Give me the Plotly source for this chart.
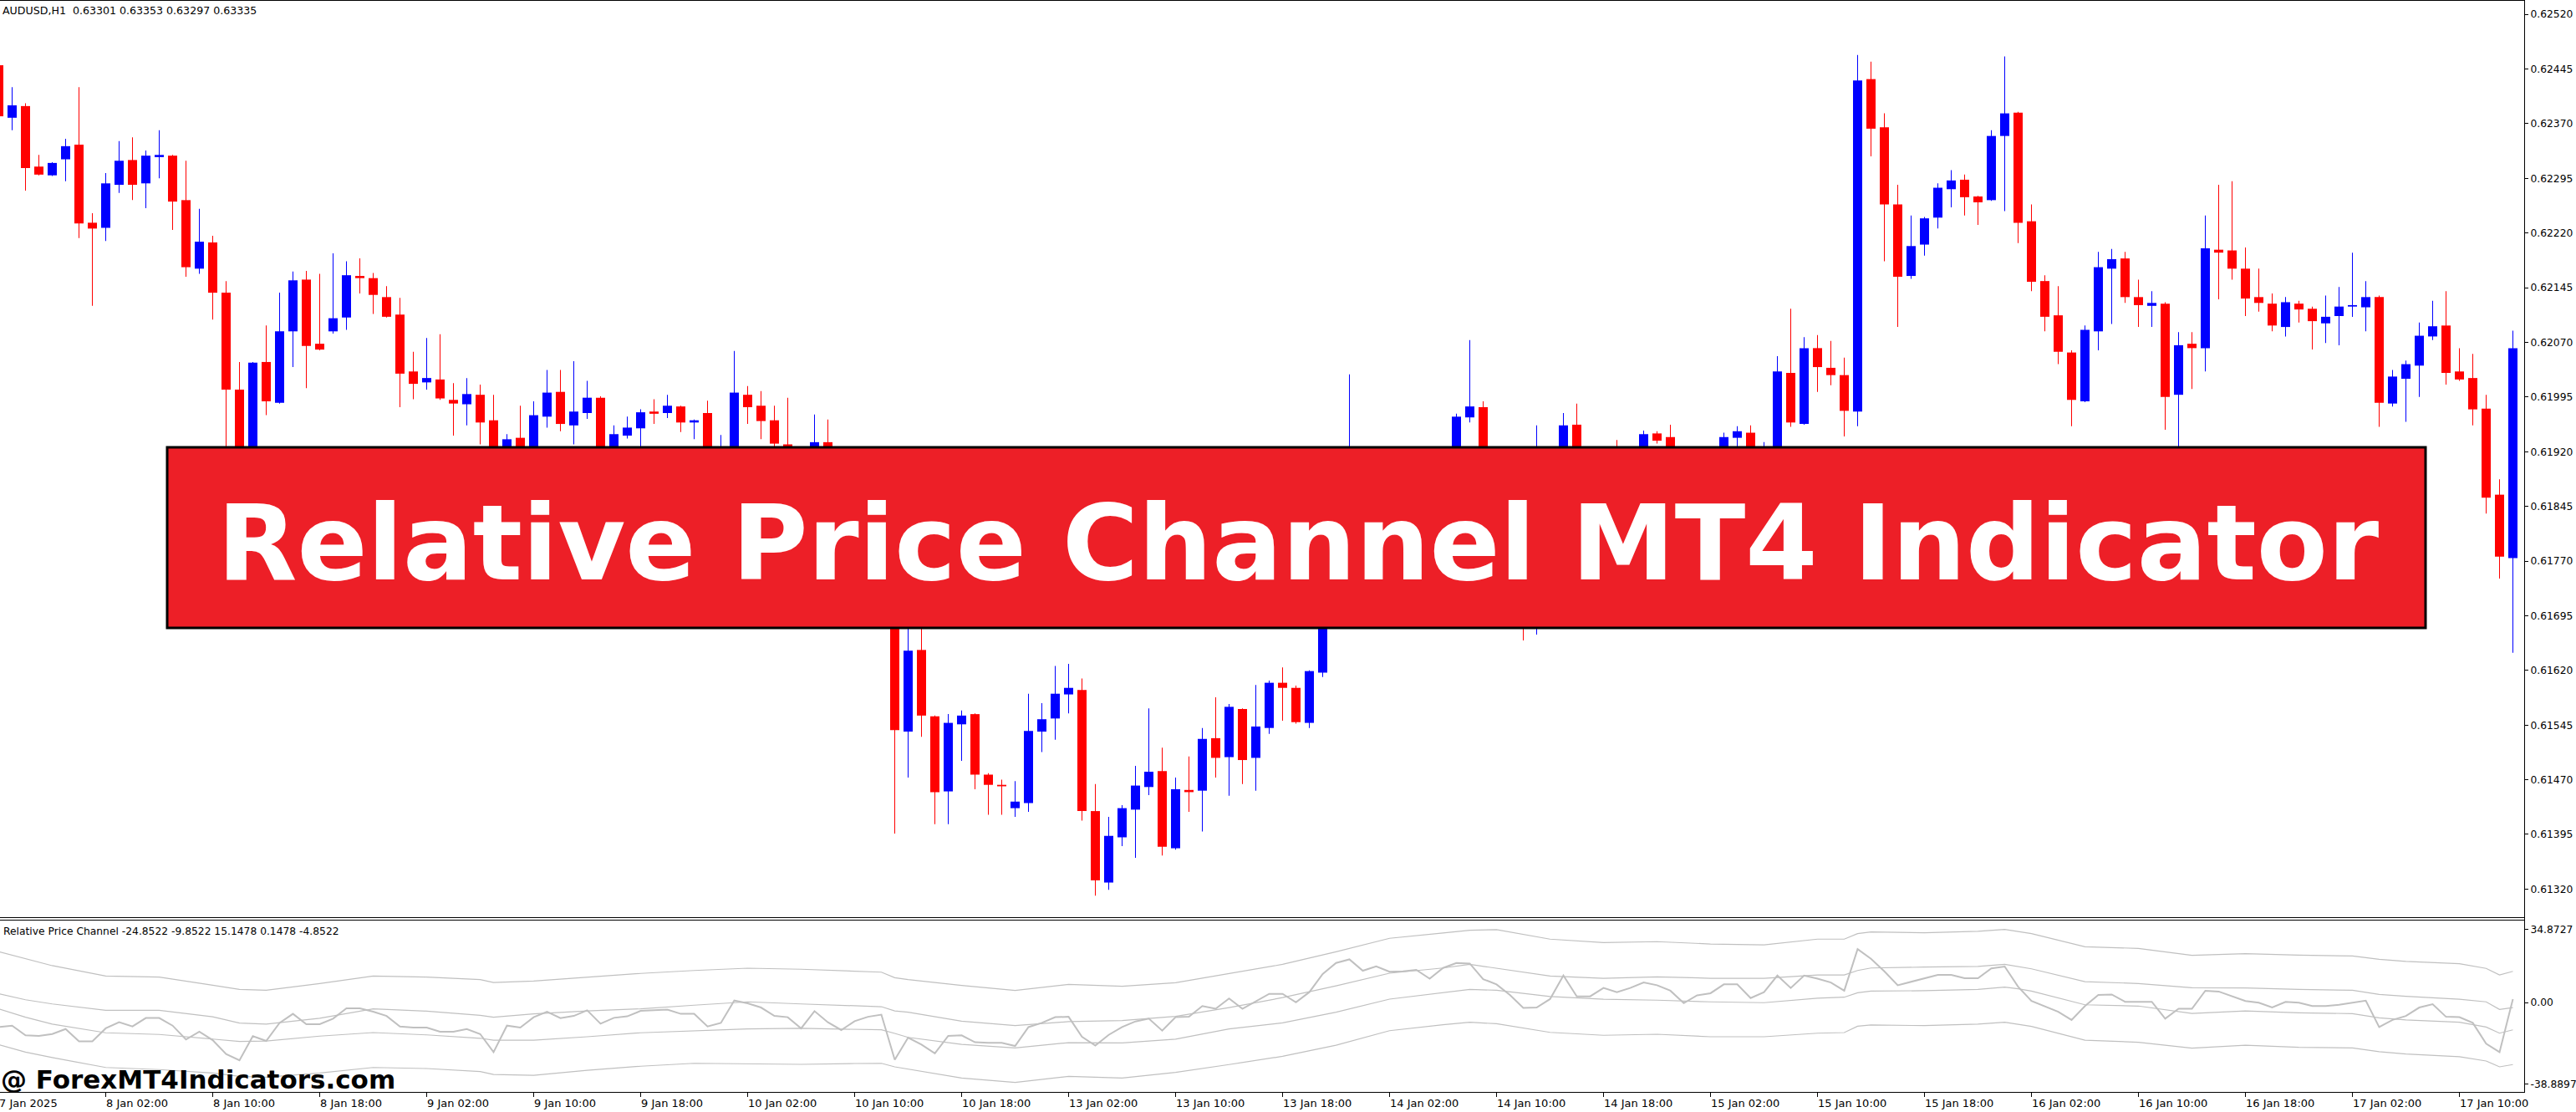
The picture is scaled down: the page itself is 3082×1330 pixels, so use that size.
import plotly.graph_objects as go

# ---------------- data ----------------
bar_index = list(range(189))  # hourly bars, 7 Jan 18:00 .. 17 Jan 14:00

opens = [
0.62450,0.62378,0.62394,0.62311,0.62299,0.62321,0.62341,0.62234,0.62227,0.62286,
0.62320,0.62288,0.62324,0.62326,0.62265,0.62171,0.62207,0.62138,0.62005,0.61857,
0.62043,0.61987,0.62085,0.62156,0.62068,0.62085,0.62104,0.62161,0.62158,0.62132,
0.62108,0.62030,0.62015,0.62019,0.61991,0.61985,0.61998,0.61963,0.61900,0.61939,
0.61892,0.61968,0.62002,0.61956,0.61973,0.61994,0.61897,0.61942,0.61952,0.61975,
0.61973,0.61982,0.61960,0.61973,0.61880,0.61915,0.61998,0.61983,0.61963,0.61930,
0.61869,0.61845,0.61933,0.61874,0.61850,0.61885,0.61905,0.61908,0.61536,0.61648,
0.61557,0.61454,0.61546,0.61560,0.61477,0.61463,0.61431,0.61438,0.61536,0.61554,
0.61587,0.61593,0.61427,0.61329,0.61391,0.61429,0.61460,0.61482,0.61376,0.61456,
0.61455,0.61527,0.61501,0.61567,0.61500,0.61541,0.61603,0.61596,0.61548,0.61617,
0.61737,0.61840,0.61897,0.61872,0.61895,0.61878,0.61882,0.61886,0.61860,0.61909,
0.61967,0.61981,0.61870,0.61855,0.61820,0.61780,0.61790,0.61820,0.61957,0.61880,
0.61878,0.61905,0.61890,0.61905,0.61945,0.61940,0.61910,0.61870,0.61895,0.61905,
0.61939,0.61946,0.61895,0.61915,0.62028,0.61958,0.62062,0.62035,0.62025,0.61975,
0.62431,0.62365,0.62259,0.62161,0.62204,0.62241,0.62280,0.62293,0.62270,0.62265,
0.62353,0.62385,0.62236,0.62154,0.62107,0.62056,0.61989,0.62085,0.62171,0.62185,
0.62132,0.62120,0.62123,0.61998,0.62068,0.62062,0.62197,0.62196,0.62171,0.62132,
0.62123,0.62091,0.62123,0.62116,0.62096,0.62106,0.62119,0.62118,0.62132,0.61986,
0.62020,0.62038,0.62078,0.62093,0.62030,0.62021,0.61979,0.61861,0.61774]

highs = [
0.62459,0.62420,0.62398,0.62327,0.62317,0.62349,0.62420,0.62247,0.62302,0.62346,
0.62351,0.62333,0.62361,0.62327,0.62319,0.62253,0.62216,0.62154,0.62043,0.62043,
0.62093,0.62138,0.62167,0.62168,0.62164,0.62192,0.62181,0.62185,0.62165,0.62147,
0.62131,0.62057,0.62076,0.62081,0.62014,0.62021,0.62012,0.61998,0.61944,0.61983,
0.61989,0.62032,0.62032,0.62044,0.62017,0.61996,0.61956,0.61968,0.61978,0.61992,
0.61998,0.61983,0.61964,0.61990,0.61943,0.62058,0.62010,0.62003,0.61983,0.61994,
0.61885,0.61971,0.61964,0.61890,0.61895,0.61915,0.61922,0.61920,0.61691,0.61685,
0.61558,0.61560,0.61565,0.61561,0.61479,0.61470,0.61468,0.61588,0.61575,0.61626,
0.61629,0.61609,0.61464,0.61419,0.61435,0.61489,0.61568,0.61514,0.61473,0.61502,
0.61541,0.61583,0.61574,0.61568,0.61600,0.61606,0.61624,0.61599,0.61620,0.61748,
0.61851,0.62026,0.61915,0.61905,0.61912,0.61924,0.61918,0.61915,0.61922,0.61972,
0.62073,0.61989,0.61927,0.61880,0.61860,0.61956,0.61850,0.61973,0.61986,0.61905,
0.61912,0.61936,0.61915,0.61949,0.61948,0.61957,0.61920,0.61905,0.61918,0.61946,
0.61955,0.61956,0.61933,0.62051,0.62116,0.62077,0.62080,0.62072,0.62049,0.62464,
0.62455,0.62384,0.62286,0.62244,0.62242,0.62288,0.62306,0.62300,0.62271,0.62361,
0.62462,0.62386,0.62259,0.62162,0.62147,0.62059,0.62093,0.62194,0.62198,0.62194,
0.62156,0.62140,0.62125,0.62084,0.62084,0.62244,0.62286,0.62291,0.62200,0.62171,
0.62137,0.62132,0.62127,0.62119,0.62134,0.62146,0.62193,0.62154,0.62134,0.62032,
0.62045,0.62097,0.62127,0.62140,0.62062,0.62054,0.61998,0.61882,0.62086]

lows = [
0.62373,0.62361,0.62278,0.62299,0.62298,0.62291,0.62213,0.62120,0.62209,0.62275,
0.62265,0.62254,0.62295,0.62224,0.62160,0.62164,0.62101,0.61897,0.61834,0.61840,
0.61970,0.61986,0.62036,0.62007,0.62059,0.62082,0.62087,0.62137,0.62109,0.62104,
0.61981,0.61992,0.62005,0.61991,0.61942,0.61956,0.61930,0.61892,0.61886,0.61880,
0.61880,0.61953,0.61948,0.61930,0.61965,0.61886,0.61886,0.61938,0.61915,0.61958,
0.61966,0.61947,0.61937,0.61874,0.61869,0.61903,0.61958,0.61937,0.61926,0.61857,
0.61835,0.61838,0.61863,0.61840,0.61842,0.61875,0.61893,0.61396,0.61473,0.61529,
0.61409,0.61409,0.61496,0.61457,0.61422,0.61422,0.61419,0.61426,0.61508,0.61525,
0.61561,0.61414,0.61311,0.61319,0.61379,0.61363,0.61449,0.61366,0.61374,0.61426,
0.61399,0.61473,0.61448,0.61464,0.61455,0.61533,0.61551,0.61547,0.61541,0.61611,
0.61728,0.61832,0.61860,0.61858,0.61865,0.61870,0.61875,0.61852,0.61855,0.61895,
0.61960,0.61860,0.61845,0.61810,0.61661,0.61669,0.61775,0.61810,0.61870,0.61865,
0.61868,0.61875,0.61880,0.61895,0.61931,0.61900,0.61860,0.61862,0.61885,0.61895,
0.61900,0.61880,0.61885,0.61900,0.61954,0.61957,0.62002,0.62011,0.61941,0.61955,
0.62325,0.62181,0.62091,0.62157,0.62189,0.62226,0.62255,0.62244,0.62231,0.62264,
0.62250,0.62206,0.62140,0.62085,0.62040,0.61955,0.61988,0.62059,0.62095,0.62124,
0.62091,0.62091,0.61950,0.61915,0.62006,0.62030,0.62129,0.62156,0.62106,0.62112,
0.62085,0.62078,0.62097,0.62060,0.62069,0.62066,0.62105,0.62085,0.61954,0.61982,
0.61961,0.61995,0.62073,0.62012,0.62017,0.61956,0.61835,0.61746,0.61644]

closes = [
0.62380,0.62395,0.62309,0.62300,0.62316,0.62339,0.62233,0.62226,0.62288,0.62319,
0.62286,0.62326,0.62327,0.62263,0.62173,0.62208,0.62138,0.62005,0.61851,0.62042,
0.61989,0.62085,0.62155,0.62065,0.62060,0.62103,0.62162,0.62158,0.62135,0.62105,
0.62027,0.62013,0.62021,0.61993,0.61986,0.61999,0.61960,0.61903,0.61937,0.61892,
0.61970,0.62001,0.61958,0.61975,0.61994,0.61897,0.61944,0.61953,0.61974,0.61972,
0.61983,0.61960,0.61963,0.61886,0.61915,0.62001,0.61981,0.61962,0.61931,0.61869,
0.61845,0.61933,0.61874,0.61850,0.61885,0.61905,0.61908,0.61538,0.61647,0.61558,
0.61453,0.61548,0.61558,0.61477,0.61463,0.61461,0.61440,0.61537,0.61553,0.61588,
0.61596,0.61427,0.61332,0.61393,0.61431,0.61462,0.61481,0.61378,0.61457,0.61453,
0.61526,0.61500,0.61570,0.61497,0.61543,0.61603,0.61596,0.61549,0.61619,0.61737,
0.61840,0.61897,0.61872,0.61895,0.61878,0.61882,0.61886,0.61860,0.61905,0.61968,
0.61982,0.61870,0.61855,0.61820,0.61780,0.61790,0.61820,0.61956,0.61880,0.61878,
0.61905,0.61890,0.61905,0.61944,0.61935,0.61910,0.61870,0.61895,0.61905,0.61940,
0.61948,0.61895,0.61915,0.62030,0.61960,0.62062,0.62036,0.62025,0.61976,0.62429,
0.62363,0.62259,0.62160,0.62202,0.62240,0.62282,0.62292,0.62269,0.62262,0.62353,
0.62384,0.62234,0.62153,0.62105,0.62057,0.61991,0.62087,0.62173,0.62184,0.62132,
0.62121,0.62124,0.61995,0.62066,0.62062,0.62199,0.62193,0.62171,0.62130,0.62124,
0.62093,0.62125,0.62115,0.62099,0.62105,0.62119,0.62121,0.62132,0.61987,0.62023,
0.62040,0.62079,0.62092,0.62028,0.62019,0.61978,0.61857,0.61776,0.62062]

# Relative Price Channel indicator: oscillator (one value per bar)
rpc_main = [
-11.7,-11.0,-15.6,-15.9,-15.0,-12.6,-18.5,-18.5,-12.3,-9.4,
-11.4,-7.4,-7.4,-11.0,-17.6,-13.9,-17.9,-24.5,-27.5,-16.0,
-18.3,-9.7,-5.4,-10.3,-10.3,-7.7,-2.8,-2.8,-4.4,-6.4,
-11.4,-11.9,-11.9,-13.9,-13.9,-12.6,-15.0,-23.6,-11.0,-11.9,
-7.0,-4.4,-7.4,-6.4,-3.7,-10.1,-7.3,-6.6,-4.0,-3.7,
-3.4,-5.4,-5.4,-11.4,-9.7,0.9,-0.4,-2.4,-6.4,-7.0,
-12.3,-4.1,-9.4,-13.1,-8.9,-6.8,-5.8,-27.2,-16.7,-20.0,
-24.2,-15.9,-15.6,-18.9,-19.2,-19.2,-20.7,-11.7,-9.7,-7.0,
-6.8,-16.3,-20.5,-15.4,-11.7,-9.0,-7.7,-13.4,-7.0,-6.8,
-1.7,-3.0,1.9,-3.0,0.7,4.1,4.1,0.1,4.9,13.5,
18.8,20.5,15.1,17.2,14.6,14.8,15.5,11.3,16.4,18.8,
18.5,11.1,8.6,3.6,-2.6,-2.4,1.6,12.8,2.9,2.9,
6.9,4.9,6.9,9.5,8.2,5.6,-0.3,3.4,4.4,8.6,
8.6,2.1,4.9,12.8,6.9,12.8,11.3,9.5,5.6,25.4,
20.8,14.8,8.2,9.8,11.5,13.1,13.1,11.5,11.5,16.2,
17.1,7.5,0.7,-1.7,-4.4,-8.3,-1.7,3.6,3.8,0.3,
0.3,0.3,-7.7,-3.0,-3.0,5.6,5.2,2.9,0.7,-0.1,
-2.4,0.3,-0.1,-1.7,-1.7,-1.1,-0.1,0.9,-11.7,-8.3,
-6.4,-2.4,-0.8,-6.8,-7.0,-9.7,-19.6,-23.6,1.6]

# channel lines, read at these bars
band_index = [0,2,4,8,12,16,18,20,24,28,32,36,37,40,44,48,52,56,60,64,66,67,68,72,76,80,84,88,92,96,
              100,104,108,110,112,116,120,124,128,132,136,138,139,140,144,148,150,151,152,156,
              160,164,168,172,176,178,180,184,186,187,188]
band_outer_upper = [24.1,20.8,17.5,12.6,12.1,8.2,6.2,5.8,9.0,12.6, 12.1,10.9,9.5,10.2,11.9,13.8,15.2,16.3,15.8,15.0,
                    14.4,11.8,10.9,8.1,5.7,8.6,7.7,9.4,13.9,18.1, 24.1,30.5,33.0,34.3,34.6,30.1,28.5,28.9,27.8,27.4,
                    30.1,30.1,32.7,33.5,33.1,33.8,34.7,33.8,32.7,26.5, 25.7,22.4,23.2,22.5,22.1,20.5,19.5,18.4,16.2,13.1, 14.8]
band_inner_upper = [4.2,1.3,-0.7,-3.7,-3.7,-6.8,-9.8,-10.3,-7.5,-3.0, -4.1,-6.1,-7.0,-5.4,-4.0,-3.0,-1.3,0.3,-0.7,-1.7,
                    -2.0,-4.0,-4.6,-8.9,-11.0,-9.1,-8.6,-6.6,-2.4,2.3, 7.9,13.9,16.4,18.1,16.2,12.6,11.5,12.2,11.5,11.5,
                    13.1,13.1,15.2,16.4,16.8,17.1,18.1,17.2,16.0,9.9, 9.0,7.0,6.9,6.2,5.8,3.8,2.9,1.5,0.3,-3.3, -2.4]
band_inner_lower = [-3.0,-7.0,-10.3,-14.4,-15.2,-17.4,-18.5,-18.3,-16.0,-14.3, -15.4,-17.0,-17.9,-17.9,-16.3,-14.4,-13.6,-12.6,-12.3,-12.8,
                    -13.0,-14.7,-16.6,-19.9,-21.6,-19.1,-19.2,-17.4,-12.6,-9.7, -4.6,1.6,4.6,6.2,5.8,2.8,1.5,1.1,0.3,-0.1,
                    2.0,2.5,4.6,5.4,5.6,6.2,7.3,6.5,5.4,-1.1, -1.7,-5.2,-4.0,-4.9,-5.3,-7.3,-8.3,-9.4,-11.7,-14.6, -13.0]
band_outer_lower = [-20.0,-23.6,-26.2,-30.9,-31.9,-33.5,-35.1,-35.5,-33.5,-30.9, -31.4,-32.8,-34.2,-34.6,-32.2,-30.3,-28.9,-29.0,-29.4,-29.0,
                    -28.9,-30.6,-31.7,-35.9,-38.0,-35.1,-35.9,-33.2,-29.5,-25.6, -20.3,-13.4,-10.6,-9.4,-10.1,-14.2,-15.6,-15.1,-16.3,-16.3,
                    -14.6,-14.3,-11.3,-10.7,-11.0,-10.3,-9.4,-10.3,-11.4,-17.9, -18.9,-21.7,-20.3,-21.3,-21.6,-23.4,-24.5,-25.8,-27.8,-30.6, -29.5]

price_ticks = [0.62520,0.62445,0.62370,0.62295,0.62220,0.62145,0.62070,0.61995,0.61920,
               0.61845,0.61770,0.61695,0.61620,0.61545,0.61470,0.61395,0.61320]
rpc_ticks = [34.8727, 0.0, -38.8897]
rpc_tick_text = ["34.8727", "0.00", "-38.8897"]

time_tick_index = list(range(0, 185, 8))
time_tick_labels = ["7 Jan 2025","8 Jan 02:00","8 Jan 10:00","8 Jan 18:00","9 Jan 02:00","9 Jan 10:00",
                    "9 Jan 18:00","10 Jan 02:00","10 Jan 10:00","10 Jan 18:00","13 Jan 02:00","13 Jan 10:00",
                    "13 Jan 18:00","14 Jan 02:00","14 Jan 10:00","14 Jan 18:00","15 Jan 02:00","15 Jan 10:00",
                    "15 Jan 18:00","16 Jan 02:00","16 Jan 10:00","16 Jan 18:00","17 Jan 02:00","17 Jan 10:00"]

chart_header = "AUDUSD,H1\u00a0 0.63301 0.63353 0.63297 0.63335"
indicator_header = "Relative Price Channel -24.8522 -9.8522 15.1478 0.1478 -4.8522"
banner_text = "Relative Price Channel MT4 Indicator"
watermark = "@ ForexMT4Indicators.com"

# ---------------- layout constants (pixels) ----------------
W, H = 3082, 1330
PLOT_RIGHT = 3020
MAIN_BOTTOM = 1098
SUB_TOP, SUB_BOTTOM = 1100, 1306

def px_x(x):
    return x / W

def px_y(y):
    return 1 - y / H

BULL, BEAR = "#0000FF", "#FF0000"
LINE = "#C0C0C0"
FONT = "DejaVu Sans"

colors = [BULL if c > o else BEAR for o, c in zip(opens, closes)]
body_base = [min(o, c) for o, c in zip(opens, closes)]
body_len = [abs(c - o) for o, c in zip(opens, closes)]
wick_len = [h - l for h, l in zip(highs, lows)]

fig = go.Figure()
fig.add_trace(go.Bar(x=bar_index, base=lows, y=wick_len, width=1 / 16,
                     marker=dict(color=colors, line=dict(width=0)), hoverinfo="skip",
                     xaxis="x", yaxis="y"))
fig.add_trace(go.Bar(x=bar_index, base=body_base, y=body_len, width=11 / 16,
                     marker=dict(color=colors, line=dict(width=0)), hoverinfo="skip",
                     xaxis="x", yaxis="y"))

for band in (band_outer_upper, band_inner_upper, band_inner_lower, band_outer_lower):
    fig.add_trace(go.Scatter(x=band_index, y=band, mode="lines",
                             line=dict(color=LINE, width=1.2), hoverinfo="skip",
                             xaxis="x2", yaxis="y2"))
fig.add_trace(go.Scatter(x=bar_index, y=rpc_main, mode="lines",
                         line=dict(color=LINE, width=2), hoverinfo="skip",
                         xaxis="x2", yaxis="y2"))

x_range = [0.09375, 188.84375]
xdom = [0, PLOT_RIGHT / W]

main_top_price = 0.625395
main_bottom_price = 0.625395 - MAIN_BOTTOM * 0.000011468

fig.update_layout(
    width=W, height=H, autosize=False,
    margin=dict(l=0, r=0, t=0, b=0, pad=0),
    paper_bgcolor="white", plot_bgcolor="white",
    showlegend=False, hovermode=False, barmode="overlay",
    xaxis=dict(domain=xdom, range=x_range, anchor="y", showgrid=False, zeroline=False,
               showticklabels=False, ticks="", showline=False, fixedrange=True),
    yaxis=dict(domain=[px_y(MAIN_BOTTOM), 1], range=[main_bottom_price, main_top_price],
               anchor="x", side="right", showgrid=False, zeroline=False, showline=False,
               tickmode="array", tickvals=price_ticks,
               ticktext=[f"{v:.5f}" for v in price_ticks],
               ticks="outside", ticklen=4, tickwidth=1, tickcolor="black",
               tickfont=dict(family=FONT, size=12.3, color="black"), automargin=False,
               fixedrange=True),
    xaxis2=dict(domain=xdom, range=x_range, anchor="y2", showgrid=False, zeroline=False,
                showticklabels=False, tickmode="array", tickvals=time_tick_index,
                ticks="outside", ticklen=5, tickwidth=1, tickcolor="black", showline=False,
                fixedrange=True),
    yaxis2=dict(domain=[px_y(SUB_BOTTOM), px_y(SUB_TOP)], range=[-42.52, 39.34],
                anchor="x2", side="right", showgrid=False, zeroline=False, showline=False,
                tickmode="array", tickvals=rpc_ticks, ticktext=rpc_tick_text,
                ticks="outside", ticklen=4, tickwidth=1, tickcolor="black",
                tickfont=dict(family=FONT, size=12.3, color="black"), automargin=False,
                fixedrange=True),
)

# frame lines
frame = dict(type="line", xref="paper", yref="paper", line=dict(color="black", width=1), layer="above")
fig.add_shape(x0=0, x1=px_x(PLOT_RIGHT), y0=px_y(0.5), y1=px_y(0.5), **frame)
fig.add_shape(x0=0, x1=px_x(PLOT_RIGHT), y0=px_y(MAIN_BOTTOM - 0.5), y1=px_y(MAIN_BOTTOM - 0.5), **frame)
fig.add_shape(x0=0, x1=px_x(PLOT_RIGHT), y0=px_y(SUB_TOP + 0.5), y1=px_y(SUB_TOP + 0.5), **frame)
fig.add_shape(x0=0, x1=px_x(PLOT_RIGHT), y0=px_y(SUB_BOTTOM + 0.5), y1=px_y(SUB_BOTTOM + 0.5), **frame)
fig.add_shape(x0=px_x(PLOT_RIGHT + 0.5), x1=px_x(PLOT_RIGHT + 0.5), y0=px_y(0), y1=px_y(SUB_BOTTOM + 1), **frame)

# banner
fig.add_shape(type="rect", xref="paper", yref="paper",
              x0=px_x(200), x1=px_x(2902), y0=px_y(751), y1=px_y(535),
              fillcolor="#ED1F27", line=dict(color="black", width=3), layer="above")
fig.add_annotation(xref="paper", yref="paper", x=px_x(1553), y=px_y(650),
                   text=f"<b>{banner_text}</b>", showarrow=False, xanchor="center", yanchor="middle",
                   font=dict(family=FONT, size=124, color="white"))

# header texts
fig.add_annotation(xref="paper", yref="paper", x=px_x(1), y=px_y(12), text=chart_header,
                   showarrow=False, xanchor="left", yanchor="middle",
                   font=dict(family=FONT, size=12.6, color="black"))
fig.add_annotation(xref="paper", yref="paper", x=px_x(2), y=px_y(1114), text=indicator_header,
                   showarrow=False, xanchor="left", yanchor="middle",
                   font=dict(family=FONT, size=12.3, color="black"))
fig.add_annotation(xref="paper", yref="paper", x=0, y=px_y(1291), text=f"<b>{watermark}</b>",
                   showarrow=False, xanchor="left", yanchor="middle", xshift=-1,
                   font=dict(family=FONT, size=31, color="black"))

# time labels (left-aligned at their tick like MT4)
for idx, lab in zip(time_tick_index, time_tick_labels):
    if idx == 0:
        fig.add_annotation(xref="paper", yref="paper", x=0, y=px_y(1319), text=lab, showarrow=False,
                           xanchor="left", yanchor="middle", xshift=-3,
                           font=dict(family=FONT, size=13, color="black"))
    else:
        fig.add_annotation(xref="x2", yref="paper", x=idx, y=px_y(1319), text=lab, showarrow=False,
                           xanchor="left", yanchor="middle", xshift=-2,
                           font=dict(family=FONT, size=13, color="black"))

fig.write_html("out.html", config={"displayModeBar": False, "staticPlot": True},
               post_script="document.body.style.margin='0';document.body.style.overflow='hidden';")
